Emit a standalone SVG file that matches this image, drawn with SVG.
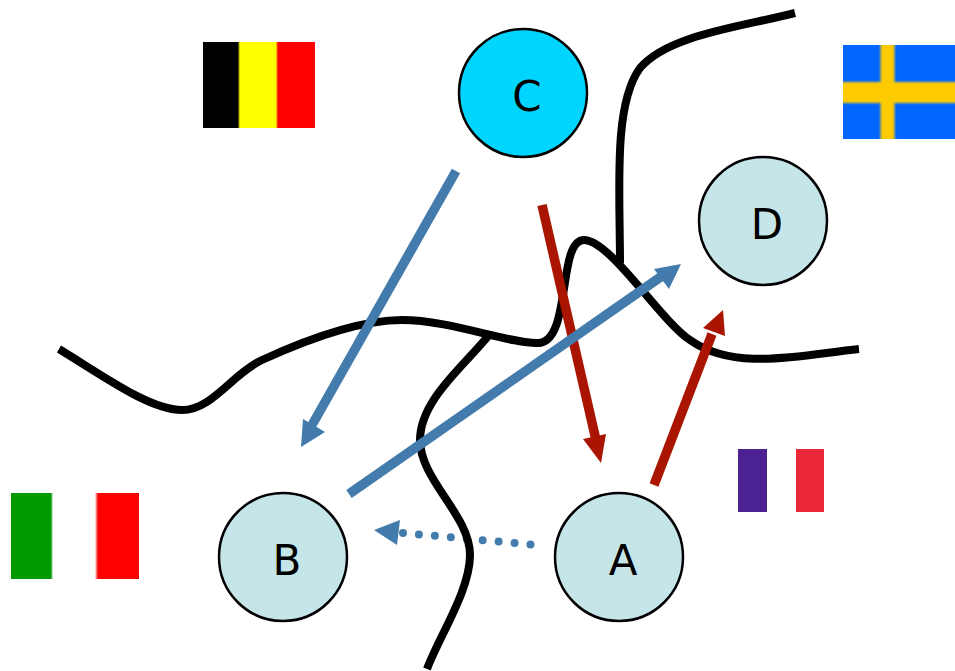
<svg xmlns="http://www.w3.org/2000/svg" width="955" height="671" viewBox="0 0 955 671">
<style>
.node{stroke:#000;stroke-width:2.5}
.light{fill:#c5e5e8}
.label{font-family:"DejaVu Sans",sans-serif;font-size:42px;fill:#000;text-anchor:middle}
.border{fill:none;stroke:#000;stroke-width:8}
.blue{fill:none;stroke:#437bac;stroke-width:9.5}
.red{fill:none;stroke:#a91500;stroke-width:9.5}
.bluehead{fill:#437bac}
.redhead{fill:#a91500}
</style>
<defs>
<linearGradient id="it"><stop offset="0.31" stop-color="#009a00"/><stop offset="0.33" stop-color="#fff"/><stop offset="0.655" stop-color="#fff"/><stop offset="0.68" stop-color="#f00"/></linearGradient>
<linearGradient id="be"><stop offset="0.31" stop-color="#000"/><stop offset="0.33" stop-color="#ff0"/><stop offset="0.65" stop-color="#ff0"/><stop offset="0.67" stop-color="#f00"/></linearGradient>
<filter id="soft" x="0" y="0" width="1" height="1"><feGaussianBlur stdDeviation="1"/></filter>
<clipPath id="se"><rect x="843" y="45" width="112" height="94"/></clipPath>
</defs>
<g id="flag-belgium"><rect x="203" y="42" width="112" height="86" fill="url(#be)"/></g>
<g id="flag-sweden" clip-path="url(#se)"><rect x="843" y="45" width="112" height="94" fill="#0066ff"/><g filter="url(#soft)"><rect x="880.5" y="35" width="14" height="114" fill="#fecb00"/><rect x="833" y="82" width="132" height="21" fill="#fecb00"/></g></g>
<g id="flag-italy"><rect x="11" y="493" width="128" height="86" fill="url(#it)"/></g>
<g id="flag-france"><rect x="738" y="449" width="29" height="63" fill="#4c2192"/><rect x="796" y="449" width="28" height="63" fill="#ea2839"/></g>
<g id="connectors-under"><path d="M403 533L533 544.7" fill="none" stroke="#437bac" stroke-width="8" stroke-linecap="round" stroke-dasharray="0 16"/></g>
<g id="borders">
<path class="border" d="M59 349C105 377 150 410 182 410C212 410 232 374 262 360C310 338 360 320 402 320C450 320 510 344 538 343C572 342 557 240 584 240C610 240 660 320 690 340C735 372 800 355 859 349"/>
<path class="border" d="M620 263C620 190 613 105 640 68C668 35 740 27 795 13"/>
<path class="border" d="M489 335C465 365 420 400 420 440C420 480 470 515 470 555C470 590 440 635 427 669"/>
</g>
<g id="connectors">
<path class="red" d="M542 205L596 440"/><polygon class="redhead" points="601,463 583,439 606,434"/>
<path class="blue" d="M456 171L312 425"/><polygon class="bluehead" points="301,447 303,419 325,432"/>
<path class="red" d="M654 485L712 334"/><polygon class="redhead" points="723,310 725,336 703,328"/>
<path class="blue" d="M349 494L662 276"/><polygon class="bluehead" points="681,264 654,269 669,289"/>
<polygon class="bluehead" points="374,530 400,520 397,545"/>
</g>
<g id="node-A"><circle class="node light" cx="619" cy="557" r="64"/><text class="label" x="623" y="575">A</text></g>
<g id="node-B"><circle class="node light" cx="283" cy="557" r="64"/><text class="label" x="287" y="575">B</text></g>
<g id="node-C"><circle class="node" fill="#00d5ff" cx="523" cy="93" r="64"/><text class="label" x="527" y="111">C</text></g>
<g id="node-D"><circle class="node light" cx="763" cy="221" r="64"/><text class="label" x="767" y="239">D</text></g>
</svg>
